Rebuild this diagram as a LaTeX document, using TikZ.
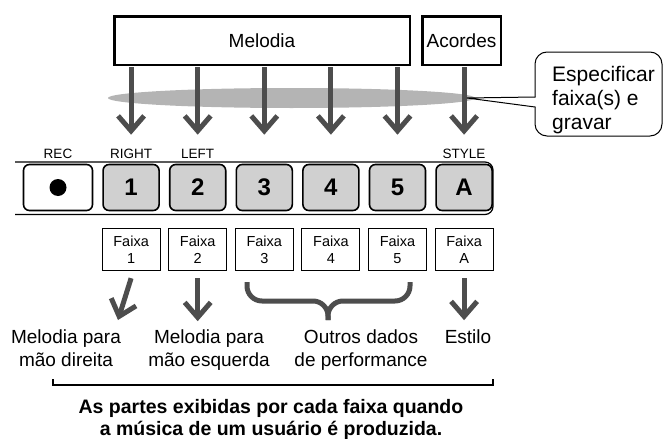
\documentclass[tikz,border=0pt]{standalone}
\usepackage{fontspec}
\setmainfont{Liberation Sans}
\usepackage{tikz}
\usetikzlibrary{positioning}
\usetikzlibrary{calc}
\usetikzlibrary{arrows.meta}

\definecolor{arrowgray}{RGB}{77,77,77}
\definecolor{bandgray}{RGB}{180,180,180}
\definecolor{keygray}{RGB}{208,208,208}

\tikzset{
    partbox/.style={draw, line width=2.5pt, minimum height=48.5pt, inner sep=0pt, font=\fontsize{19}{22}\selectfont},
    key/.style={draw, line width=1.6pt, rounded corners=6pt, fill=keygray, minimum width=56pt, minimum height=46pt, inner sep=0pt, font=\bfseries\fontsize{24}{28}\selectfont},
    keylabel/.style={inner sep=0pt, font=\fontsize{13.5}{15}\selectfont},
    trackbox/.style={draw, line width=0.9pt, minimum width=58pt, minimum height=42pt, inner sep=0pt, align=center, font=\fontsize{14.5}{17}\selectfont},
    bigarrow/.style={draw=arrowgray, line width=5pt, -{Straight Barb[length=15pt, width=26pt]}},
    parttext/.style={align=center, inner sep=0pt, anchor=north, font=\fontsize{19}{23}\selectfont},
}

\begin{document}
\begin{tikzpicture}[x=1pt, y=-1pt]
    \useasboundingbox (0,0) rectangle (664,439);

    \node[partbox, minimum width=295.5pt] (melodia) at (262,40.5) {Melodia};
    \node[partbox, minimum width=78.5pt] (acordes) at (461.5,40.5) {Acordes};

    \draw[line width=1.2pt, rounded corners=8pt] (15,162) -- (493,162) -- (493,214.5) -- (15,214.5);

    \node[key, fill=white, minimum width=69pt] (rec) at (58,187.5) {};
    \fill (rec.center) circle (8.5);
    \node[key, right=9pt of rec] (b1) {1};
    \node[key, right=9pt of b1] (b2) {2};
    \node[key, right=9pt of b2] (b3) {3};
    \node[key, right=9pt of b3] (b4) {4};
    \node[key, right=9pt of b4] (b5) {5};
    \node[key, right=9pt of b5] (bA) {A};

    \node[keylabel, above=5pt of rec] (reclabel) {REC};
    \node[keylabel, above=5pt of b1] (rightlabel) {RIGHT};
    \node[keylabel, above=5pt of b2] (leftlabel) {LEFT};
    \node[keylabel, above=5pt of bA] (stylelabel) {STYLE};

    \node[trackbox, below=17pt of b1] (f1) {Faixa\\1};
    \node[trackbox, below=17pt of b2] (f2) {Faixa\\2};
    \node[trackbox, below=17pt of b3] (f3) {Faixa\\3};
    \node[trackbox, below=17pt of b4] (f4) {Faixa\\4};
    \node[trackbox, below=17pt of b5] (f5) {Faixa\\5};
    \node[trackbox, below=17pt of bA] (fA) {Faixa\\A};

    % band where the tracks are chosen
    \fill[bandgray] (291.5,98) ellipse [x radius=183.5, y radius=10];

    \foreach \k in {b1,b2,b3,b4,b5}
        \draw[bigarrow] ([yshift=-1.25pt]melodia.south -| \k) -- ([yshift=29pt]\k.north);
    \draw[bigarrow] ([yshift=-1.25pt]acordes.south -| bA) -- ([yshift=29pt]bA.north);

    \coordinate (tip) at (467,98);
    \draw[line width=1pt, line cap=round, rounded corners=12pt] (535,97) -- (535,52) -- (662,52) -- (662,136) -- (535,136) -- (535,107);
    \draw[line width=1pt, line cap=round] (535,97) -- (tip) -- (535,107);
    \node[inner sep=0pt, anchor=north west, align=left, font=\fontsize{21}{24}\selectfont] (note) at (552,66) {Especificar\\faixa(s) e\\gravar};

    \node[parttext] (righthand) at (66,330) {Melodia para\\mão direita};
    \node[parttext] (lefthand) at (209,330) {Melodia para\\mão esquerda};
    \node[parttext] (others) at (361,330) {Outros dados\\de performance};
    \node[parttext] (style) at (468,330) {Estilo};

    \draw[bigarrow] ([yshift=-7pt]f1.south) -- (118,320);
    \draw[bigarrow] ([yshift=-7pt]f2.south) -- ++(0,43);
    \draw[bigarrow] ([yshift=-7pt]fA.south) -- ++(0,42);
    \draw[draw=arrowgray, line width=5pt, rounded corners=15pt] (247,282) |- (328,301) -- (328,320);
    \draw[draw=arrowgray, line width=5pt, rounded corners=15pt] (410,282) |- (328,301) -- (328,320);

    \draw[line width=2.5pt] (53,379) -- (53,385) -- (493,385) -- (493,379);
    \node[parttext, font=\bfseries\fontsize{19.5}{22}\selectfont] (summary) at (271,399) {As partes exibidas por cada faixa quando\\a música de um usuário é produzida.};
\end{tikzpicture}
\end{document}
